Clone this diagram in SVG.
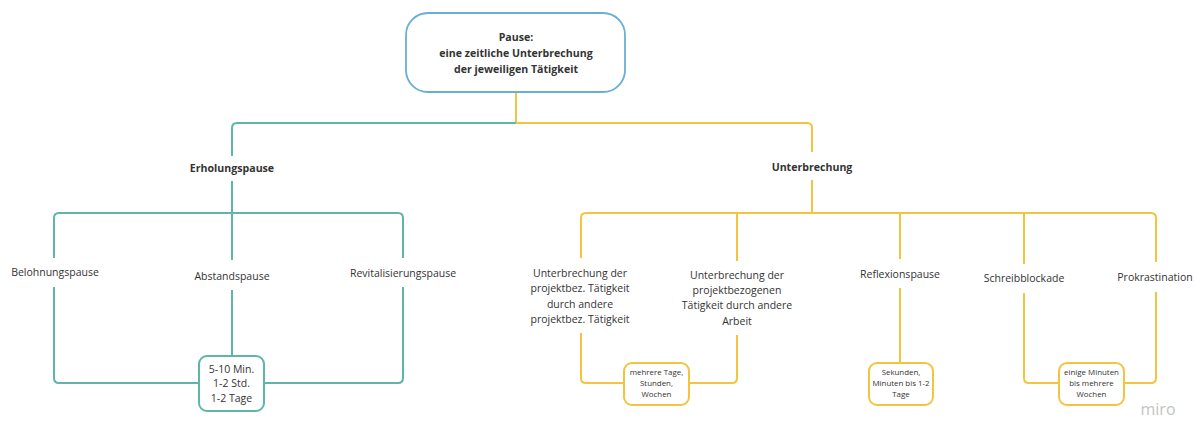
<svg xmlns="http://www.w3.org/2000/svg" width="1195" height="421" viewBox="0 0 1195 421">
<style>
text{font-family:"Open Sans","Noto Sans","Liberation Sans",sans-serif;fill:#333;text-anchor:middle}
.b{font-weight:bold;font-size:10.6px}
.n{font-size:10.5px}
.s{font-size:10.5px}
.xs{font-size:7.9px}
.t{fill:none;stroke:#5fb6a8;stroke-width:2;stroke-linejoin:round}
.y{fill:none;stroke:#f3c43e;stroke-width:2;stroke-linejoin:round}
</style>
<rect width="1195" height="421" fill="#fff"/>
<g id="connectors">
<path class="y" d="M516 92V123H807Q812 123 812 128V152"/>
<path class="t" d="M516 123H237Q232 123 232 128V156"/>
<path class="t" d="M232 181V260"/>
<path class="t" d="M54 258V218Q54 213 59 213H398Q403 213 403 218V258"/>
<path class="t" d="M54 287V378Q54 383 59 383H199"/>
<path class="t" d="M232 290V356"/>
<path class="t" d="M403 287V378Q403 383 398 383H264"/>
<path class="y" d="M812 180V213"/>
<path class="y" d="M581 258V218Q581 213 586 213H1151Q1156 213 1156 218V262"/>
<path class="y" d="M737 213V261"/>
<path class="y" d="M900 213V259"/>
<path class="y" d="M1024 213V264"/>
<path class="y" d="M581 333V378Q581 383 586 383H624"/>
<path class="y" d="M737 335V378Q737 383 732 383H689"/>
<path class="y" d="M900 288V363"/>
<path class="y" d="M1024 293V378Q1024 383 1029 383H1059"/>
<path class="y" d="M1156 292V378Q1156 383 1151 383H1124"/>
</g>
<g id="root">
<rect x="406" y="13" width="219" height="79" rx="22" fill="#fff" stroke="#6aaed6" stroke-width="1.8"/>
<text class="b" x="516" y="41">Pause:</text>
<text class="b" x="516" y="57">eine zeitliche Unterbrechung</text>
<text class="b" x="516" y="73">der jeweiligen Tätigkeit</text>
</g>
<g id="erholungspause"><text class="b" x="232" y="172">Erholungspause</text></g>
<g id="unterbrechung"><text class="b" x="812" y="171">Unterbrechung</text></g>
<g id="belohnungspause"><text class="n" x="55" y="276">Belohnungspause</text></g>
<g id="abstandspause"><text class="n" x="232" y="280">Abstandspause</text></g>
<g id="revitalisierungspause"><text class="n" x="403" y="277">Revitalisierungspause</text></g>
<g id="dauer-erholung">
<rect x="199" y="356" width="65" height="55" rx="8" fill="#fff" stroke="#5fb6a8" stroke-width="2"/>
<text class="s" x="231.5" y="373">5-10 Min.</text>
<text class="s" x="231.5" y="387">1-2 Std.</text>
<text class="s" x="231.5" y="402">1-2 Tage</text>
</g>
<g id="unterbrechung-projektbez">
<text class="n" x="580" y="277">Unterbrechung der</text>
<text class="n" x="580" y="292">projektbez. Tätigkeit</text>
<text class="n" x="580" y="308">durch andere</text>
<text class="n" x="580" y="323">projektbez. Tätigkeit</text>
</g>
<g id="unterbrechung-arbeit">
<text class="n" x="737" y="279">Unterbrechung der</text>
<text class="n" x="737" y="294">projektbezogenen</text>
<text class="n" x="737" y="309">Tätigkeit durch andere</text>
<text class="n" x="737" y="325">Arbeit</text>
</g>
<g id="dauer-unterbrechung">
<rect x="624" y="363" width="65" height="42" rx="8" fill="#fff" stroke="#f3c43e" stroke-width="2"/>
<text class="xs" x="656.5" y="375">mehrere Tage,</text>
<text class="xs" x="656.5" y="386">Stunden,</text>
<text class="xs" x="656.5" y="397">Wochen</text>
</g>
<g id="reflexionspause"><text class="n" x="900" y="278">Reflexionspause</text></g>
<g id="dauer-reflexion">
<rect x="869" y="363" width="64" height="42" rx="8" fill="#fff" stroke="#f3c43e" stroke-width="2"/>
<text class="xs" x="901" y="375">Sekunden,</text>
<text class="xs" x="901" y="386">Minuten bis 1-2</text>
<text class="xs" x="901" y="397">Tage</text>
</g>
<g id="schreibblockade"><text class="n" x="1024" y="282">Schreibblockade</text></g>
<g id="prokrastination"><text class="n" x="1155" y="281">Prokrastination</text></g>
<g id="dauer-blockade">
<rect x="1059" y="363" width="65" height="42" rx="8" fill="#fff" stroke="#f3c43e" stroke-width="2"/>
<text class="xs" x="1091.5" y="375">einige Minuten</text>
<text class="xs" x="1091.5" y="386">bis mehrere</text>
<text class="xs" x="1091.5" y="397">Wochen</text>
</g>
<text x="1158" y="415" style="font-size:16px;fill:#c4c4c4">miro</text>
</svg>
